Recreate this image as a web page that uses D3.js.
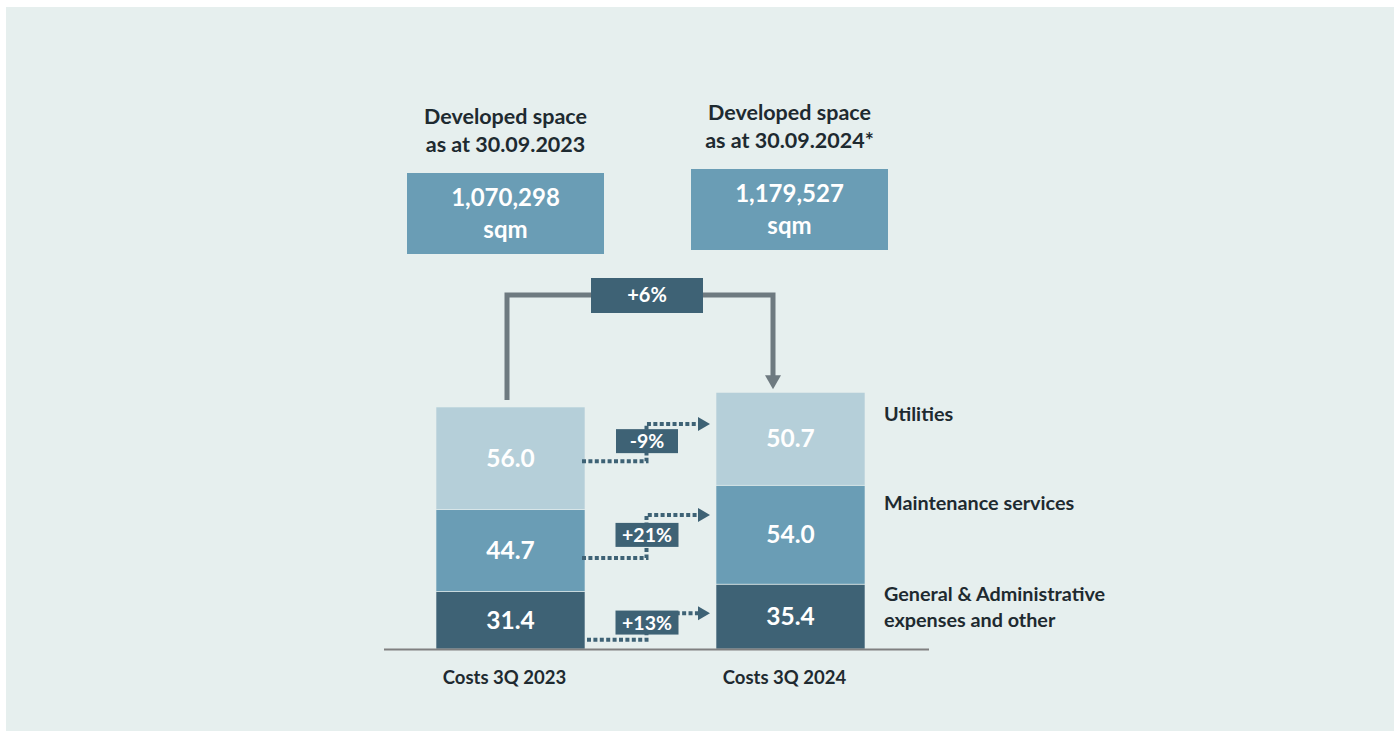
<!DOCTYPE html>
<html>
<head>
<meta charset="utf-8">
<script src="https://cdn.jsdelivr.net/npm/d3@7"></script>
<style>
  body { margin: 0; background: #fff; }
  svg text { font-family: Lato, "Open Sans", sans-serif; font-weight: bold; }
</style>
</head>
<body>
<svg id="chart" width="1400" height="731"></svg>
<script>
// 数据
var periods = ['Costs 3Q 2023', 'Costs 3Q 2024'];
var categories = ['General & Administrative expenses and other', 'Maintenance services', 'Utilities'];
var values2023 = [31.4, 44.7, 56.0];
var values2024 = [35.4, 54.0, 50.7];
var changes = ['+13%', '+21%', '-9%'];
var spaceTitles = ['as at 30.09.2023', 'as at 30.09.2024*'];
var spaceValues = ['1,070,298', '1,179,527'];
var spaceChange = '+6%';

var colors = ['#3e6275', '#6a9db5', '#b5cfd9'];
var darkText = '#1e2a30';

var svg = d3.select('#chart');

// 背景
svg.append('rect')
    .attr('x', 6).attr('y', 7)
    .attr('width', 1388).attr('height', 724)
    .attr('fill', '#e6efee');

// 比例尺
var baseY = 649;
var x = d3.scaleBand()
    .domain(periods)
    .range([436, 865])
    .paddingInner(131 / 280)
    .paddingOuter(0);
var y = d3.scaleLinear()
    .domain([0, 150])
    .range([baseY, baseY - 274.8]);

// 堆叠
var rows = periods.map(function(p, i) {
    var row = { period: p };
    var vals = i === 0 ? values2023 : values2024;
    categories.forEach(function(c, j) { row[c] = vals[j]; });
    return row;
});
var series = d3.stack().keys(categories)(rows);

var groups = svg.selectAll('g.series')
    .data(series)
    .enter()
    .append('g')
    .attr('class', 'series')
    .attr('fill', function(d, i) { return colors[i]; });

groups.selectAll('rect')
    .data(function(d) { return d; })
    .enter()
    .append('rect')
    .attr('x', function(d) { return x(d.data.period); })
    .attr('y', function(d) { return y(d[1]); })
    .attr('width', x.bandwidth())
    .attr('height', function(d) { return y(d[0]) - y(d[1]); })
    .attr('stroke', '#e6efee')
    .attr('stroke-width', 0.6);

// 数值标签
groups.selectAll('text')
    .data(function(d) { return d.map(function(s) { return { s: s, key: d.key }; }); })
    .enter()
    .append('text')
    .attr('x', function(d) { return x(d.s.data.period) + x.bandwidth() / 2; })
    .attr('y', function(d) { return (y(d.s[0]) + y(d.s[1])) / 2 + 8.5; })
    .attr('text-anchor', 'middle')
    .attr('fill', '#fff')
    .attr('font-size', 24.5)
    .text(function(d) { return d.s.data[d.key].toFixed(1); });

// 基线
svg.append('line')
    .attr('x1', 384).attr('x2', 929)
    .attr('y1', baseY + 0.5).attr('y2', baseY + 0.5)
    .attr('stroke', '#808080')
    .attr('stroke-width', 2);

// 横轴标签
svg.selectAll('text.period')
    .data(periods)
    .enter()
    .append('text')
    .attr('class', 'period')
    .attr('x', function(d) { return x(d) + x.bandwidth() / 2 - 6; })
    .attr('y', 684)
    .attr('text-anchor', 'middle')
    .attr('fill', darkText)
    .attr('font-size', 18.5)
    .text(function(d) { return d; });

// 图例（右侧）
var legendX = x(periods[1]) + x.bandwidth() + 19;
var legendLines = [['General & Administrative', 'expenses and other'], ['Maintenance services'], ['Utilities']];
var legendTop = [594, 503, 414];
legendLines.forEach(function(lines, i) {
    var t = svg.append('text')
        .attr('x', legendX)
        .attr('y', legendTop[i] + 7)
        .attr('fill', darkText)
        .attr('font-size', 19.8);
    lines.forEach(function(l, k) {
        t.append('tspan').attr('x', legendX).attr('dy', k === 0 ? 0 : 26).text(l);
    });
});

// 虚线箭头
var connColor = '#3e6275';
var startFrac = [0.84, 0.59, 0.53];
var endFrac = [0.45, 0.30, 0.34];
var x1 = x(periods[0]) + x.bandwidth() - 3;
var x2 = x(periods[1]) - 6;
var xm = (x1 + x2) / 2 + 0.5;

series.forEach(function(s, i) {
    var a = s[0], b = s[1];
    var sy = y(a[1]) + startFrac[i] * (y(a[0]) - y(a[1]));
    var ey = y(b[1]) + endFrac[i] * (y(b[0]) - y(b[1]));
    var sx = i === 0 ? x1 + 5 : x1;
    svg.append('path')
        .attr('d', 'M' + sx + ',' + sy + 'H' + xm + 'V' + ey + 'H' + (x2 - 10))
        .attr('fill', 'none')
        .attr('stroke', connColor)
        .attr('stroke-width', 4)
        .attr('stroke-dasharray', '4,2.4');
    svg.append('path')
        .attr('d', 'M' + (x2 - 12) + ',' + (ey - 7) + 'L' + x2 + ',' + ey + 'L' + (x2 - 12) + ',' + (ey + 7) + 'Z')
        .attr('fill', connColor);
    var my = (sy + ey) / 2 - (i === 0 ? 4 : 1.5);
    var bw = changes[i].length > 3 ? 63 : 62;
    svg.append('rect')
        .attr('x', xm - bw / 2 + 0.5).attr('y', my - 12)
        .attr('width', bw).attr('height', 24)
        .attr('fill', connColor);
    svg.append('text')
        .attr('x', xm + 0.5).attr('y', my + 7)
        .attr('text-anchor', 'middle')
        .attr('fill', '#fff')
        .attr('font-size', 19.5)
        .text(changes[i]);
});

// 顶部：开发面积
var boxCenters = periods.map(function(p, i) { return x(p) + x.bandwidth() / 2 - (i === 0 ? 5 : 1); });
var boxTop = [173, 169];
boxCenters.forEach(function(cx, i) {
    svg.append('rect')
        .attr('x', cx - 98.5).attr('y', boxTop[i])
        .attr('width', 197).attr('height', 81)
        .attr('fill', '#6a9db5');
    svg.append('text')
        .attr('x', cx).attr('y', boxTop[i] + 33)
        .attr('text-anchor', 'middle').attr('fill', '#fff').attr('font-size', 24)
        .text(spaceValues[i]);
    svg.append('text')
        .attr('x', cx).attr('y', boxTop[i] + 65)
        .attr('text-anchor', 'middle').attr('fill', '#fff').attr('font-size', 24)
        .text('sqm');
    var t = svg.append('text')
        .attr('x', cx).attr('y', boxTop[i] - 49)
        .attr('text-anchor', 'middle').attr('fill', darkText).attr('font-size', 21.5);
    t.append('tspan').attr('x', cx).attr('dy', 0).text('Developed space');
    t.append('tspan').attr('x', cx).attr('dy', 28).text(spaceTitles[i]);
});

// +6% 箭头
var ax1 = x(periods[0]) + x.bandwidth() / 2 - 3.5;
var ax2 = x(periods[1]) + x.bandwidth() / 2 - 17.5;
var arrowTop = 295;
var arrowEnd = y(d3.sum(values2024)) - 3;
svg.append('path')
    .attr('d', 'M' + ax1 + ',' + (y(d3.sum(values2023)) - 7) + 'V' + arrowTop + 'H' + ax2 + 'V' + (arrowEnd - 10))
    .attr('fill', 'none')
    .attr('stroke', '#6e7a80')
    .attr('stroke-width', 5);
svg.append('path')
    .attr('d', 'M' + (ax2 - 8) + ',' + (arrowEnd - 14) + 'L' + ax2 + ',' + arrowEnd + 'L' + (ax2 + 8) + ',' + (arrowEnd - 14) + 'Z')
    .attr('fill', '#6e7a80');
var cmid = (ax1 + ax2) / 2 + 7;
svg.append('rect')
    .attr('x', cmid - 56).attr('y', arrowTop - 17)
    .attr('width', 112).attr('height', 35)
    .attr('fill', '#3e6275');
svg.append('text')
    .attr('x', cmid).attr('y', arrowTop + 7)
    .attr('text-anchor', 'middle').attr('fill', '#fff').attr('font-size', 20)
    .text(spaceChange);
</script>
</body>
</html>
